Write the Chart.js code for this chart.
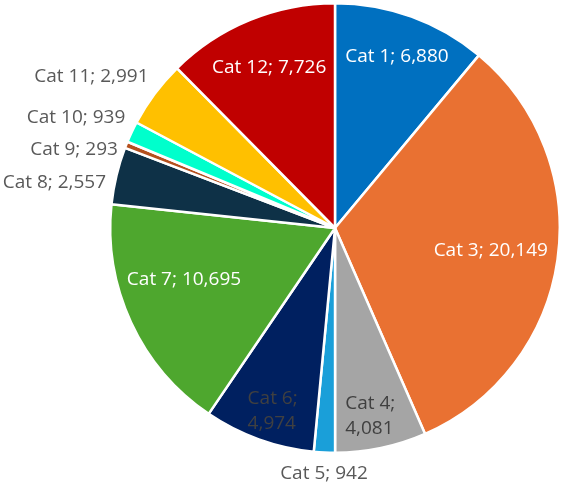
<!DOCTYPE html>
<html>
<head>
<meta charset="utf-8">
<script src="https://cdn.jsdelivr.net/npm/chart.js@4.4.1/dist/chart.umd.min.js"></script>
<style>
  html, body { margin: 0; padding: 0; background: #fff; }
  #wrap { width: 561px; height: 485px; position: relative; }
</style>
</head>
<body>
<div id="wrap"><canvas id="pieChart"></canvas></div>
<script>
// data
const categories = ['Cat 1', 'Cat 2', 'Cat 3', 'Cat 4', 'Cat 5', 'Cat 6', 'Cat 7', 'Cat 8', 'Cat 9', 'Cat 10', 'Cat 11', 'Cat 12'];
const values = [6880, 0, 20149, 4081, 942, 4974, 10695, 2557, 293, 939, 2991, 7726];

const sliceColors = ['#0070C0', '#E97132', '#E97132', '#A5A5A5', '#1A9FD9', '#002060', '#4EA72E', '#0E3147', '#B4501E', '#00FFCC', '#FFC000', '#C00000'];

// label placement: inside (fraction of radius) or outside, plus text colour
const labelStyle = {
  'Cat 1':  { pos: 'in', r: 0.81, color: '#fff' },
  'Cat 3':  { pos: 'in', r: 0.70, color: '#fff' },
  'Cat 4':  { pos: 'in', r: 0.85, color: '#404040', wrap: true, da: 1.2 },
  'Cat 5':  { pos: 'out', color: '#595959', dx: 2, dy: 3 },
  'Cat 6':  { pos: 'in', r: 0.86, color: '#404040', wrap: true, da: -1 },
  'Cat 7':  { pos: 'in', r: 0.71, color: '#fff', da: 6 },
  'Cat 8':  { pos: 'out', color: '#595959', dx: -4, dy: 11 },
  'Cat 9':  { pos: 'out', color: '#595959', dx: -4, dy: 12 },
  'Cat 10': { pos: 'out', color: '#595959', dx: -4, dy: -7 },
  'Cat 11': { pos: 'out', color: '#595959', dx: -11, dy: -6 },
  'Cat 12': { pos: 'in', r: 0.77, color: '#fff' }
};

const FONT = '19px "Open Sans", sans-serif';
const LINE_H = 25;

function fmt(v) { return v.toLocaleString('en-US'); }

const labelPlugin = {
  id: 'sliceLabels',
  afterDatasetsDraw(chart) {
    const c = chart.ctx;
    const meta = chart.getDatasetMeta(0);
    c.save();
    c.font = FONT;
    meta.data.forEach((arc, i) => {
      const v = values[i];
      if (!v) return;
      const name = categories[i];
      const st = labelStyle[name] || { pos: 'in', r: 0.75, color: '#fff' };
      const p = arc.getProps(['x', 'y', 'startAngle', 'endAngle', 'outerRadius'], true);
      let mid = (p.startAngle + p.endAngle) / 2 + (st.da || 0) * Math.PI / 180;
      const lines = st.wrap ? [name + ';', fmt(v)] : [name + '; ' + fmt(v)];
      c.fillStyle = st.color;
      c.textBaseline = 'middle';
      if (st.pos === 'in') {
        const cx = p.x + Math.cos(mid) * p.outerRadius * st.r;
        const cy = p.y + Math.sin(mid) * p.outerRadius * st.r;
        c.textAlign = st.wrap ? 'left' : 'center';
        const w = Math.max(...lines.map(l => c.measureText(l).width));
        lines.forEach((l, k) => {
          const yy = cy + (k - (lines.length - 1) / 2) * LINE_H;
          c.fillText(l, st.wrap ? cx - w / 2 : cx, yy);
        });
      } else {
        const ax = p.x + Math.cos(mid) * (p.outerRadius + 8);
        const ay = p.y + Math.sin(mid) * (p.outerRadius + 8);
        const w = c.measureText(lines[0]).width;
        const h = 21;
        const cosA = Math.cos(mid), sinA = Math.sin(mid);
        // nearest corner of the text box sits on the anchor
        const cx = ax + cosA * w / 2 + (st.dx || 0);
        const cy = ay + sinA * h / 2 + (st.dy || 0);
        c.textAlign = 'center';
        c.fillText(lines[0], cx, cy);
      }
    });
    c.restore();
  }
};

new Chart(document.getElementById('pieChart'), {
  type: 'pie',
  data: {
    labels: categories,
    datasets: [{
      data: values,
      backgroundColor: sliceColors,
      borderColor: '#ffffff',
      borderWidth: 2.5
    }]
  },
  options: {
    responsive: true,
    maintainAspectRatio: false,
    animation: false,
    layout: { padding: { left: 109, right: 0, top: 2, bottom: 31 } },
    plugins: {
      legend: { display: false },
      tooltip: { enabled: false }
    }
  },
  plugins: [labelPlugin]
});
</script>
</body>
</html>
